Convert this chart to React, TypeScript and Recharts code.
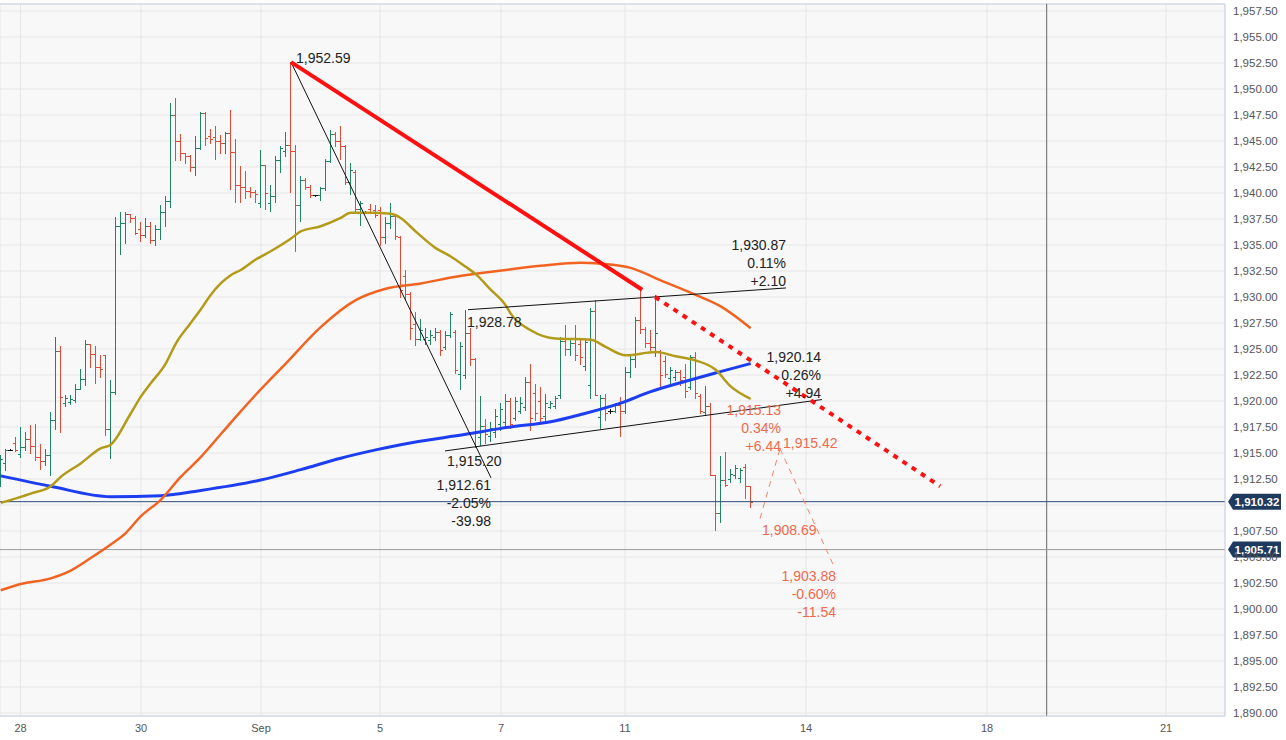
import React from 'react';
import {
  ComposedChart,
  Bar,
  Line,
  XAxis,
  YAxis,
  CartesianGrid,
  ReferenceLine,
  ReferenceDot,
} from 'recharts';

// 2-hour OHLC bars, index 0..150
const opens = [
  1913.0, 1914.0, 1915.3, 1916.0, 1914.9, 1915.6, 1916.3, 1915.7, 1914.6, 1914.2,
  1914.8, 1918.2, 1924.8, 1919.8, 1919.9, 1920.1, 1921.2, 1922.1, 1925.5, 1924.5,
  1923.3, 1924.4, 1917.3, 1920.9, 1936.8, 1937.1, 1938.0, 1937.6, 1936.5, 1936.0,
  1936.8, 1935.5, 1936.5, 1938.2, 1939.2, 1947.5, 1945.0, 1943.8, 1943.6, 1942.5,
  1944.3, 1947.7, 1945.5, 1945.4, 1945.0, 1944.8, 1945.8, 1943.9, 1940.8, 1940.6,
  1940.2, 1940.1, 1939.0, 1942.7, 1939.0, 1939.7, 1943.2, 1944.0, 1944.6, 1944.0,
  1938.8, 1941.25, 1940.6, 1939.8, 1939.8, 1940.5, 1943.1, 1945.7, 1945.0, 1944.5,
  1941.1, 1942.0, 1938.5, 1938.2, 1938.5, 1938.4, 1938.4, 1935.8, 1937.1, 1937.8,
  1935.8, 1932.0, 1930.3, 1927.4, 1926.0, 1926.0, 1925.9, 1926.2, 1926.6, 1925.2,
  1926.3, 1926.6, 1922.6, 1922.5, 1926.5, 1924.0, 1916.5, 1917.6, 1916.6, 1917.0,
  1917.8, 1918.0, 1920.0, 1918.4, 1919.0, 1919.4, 1921.8, 1920.8, 1920.0, 1918.6,
  1919.4, 1919.5, 1920.6, 1925.8, 1925.0, 1925.6, 1925.5, 1923.4, 1921.5, 1928.7,
  1918.5, 1920.3, 1919.0, 1919.0, 1919.6, 1919.0, 1922.8, 1924.0, 1927.8, 1926.9,
  1925.6, 1925.2, 1924.8, 1923.8, 1922.2, 1922.3, 1922.8, 1922.3, 1921.3, 1924.2,
  1920.5, 1918.9, 1919.5, 1912.9, 1909.2, 1912.4, 1912.5, 1912.9, 1912.6, 1913.7,
  1911.8,
];
const highs = [
  1914.8, 1915.4, 1915.35, 1916.5, 1917.5, 1917.0, 1917.7, 1917.8, 1915.9, 1915.4,
  1918.9, 1926.2, 1925.3, 1920.6, 1920.6, 1921.6, 1923.1, 1925.9, 1925.5, 1925.3,
  1924.4, 1924.4, 1922.0, 1937.7, 1938.2, 1938.2, 1938.0, 1937.8, 1937.2, 1937.6,
  1937.2, 1936.9, 1938.8, 1939.7, 1948.7, 1949.1, 1945.7, 1943.8, 1943.7, 1945.5,
  1947.8, 1947.8, 1946.2, 1946.4, 1945.6, 1945.9, 1948.0, 1945.2, 1942.6, 1942.1,
  1940.6, 1940.3, 1944.1, 1942.7, 1940.8, 1943.6, 1944.5, 1945.9, 1952.59, 1944.6,
  1941.6, 1941.4, 1940.8, 1939.85, 1940.6, 1943.3, 1946.1, 1945.9, 1946.4, 1944.6,
  1942.9, 1942.2, 1939.2, 1938.25, 1938.9, 1938.85, 1938.7, 1937.7, 1939.0, 1938.0,
  1935.9, 1932.6, 1930.5, 1928.6, 1927.9, 1927.0, 1926.8, 1927.0, 1926.8, 1926.7,
  1928.6, 1926.8, 1925.7, 1928.78, 1927.0, 1924.1, 1920.5, 1918.3, 1918.0, 1919.2,
  1919.8, 1920.7, 1920.3, 1920.4, 1920.4, 1922.3, 1923.6, 1921.6, 1921.3, 1920.7,
  1920.0, 1920.5, 1926.2, 1927.3, 1926.0, 1927.3, 1926.0, 1925.9, 1928.9, 1929.7,
  1920.6, 1920.7, 1919.2, 1919.8, 1920.4, 1923.3, 1924.3, 1928.1, 1930.7, 1927.1,
  1926.8, 1930.2, 1924.9, 1924.3, 1923.3, 1923.0, 1923.0, 1923.6, 1924.4, 1924.7,
  1920.7, 1921.4, 1919.8, 1912.9, 1914.7, 1915.1, 1913.5, 1913.8, 1913.6, 1913.9,
  1911.8,
];
const lows = [
  1911.8, 1913.4, 1915.25, 1915.2, 1914.6, 1915.3, 1915.0, 1914.3, 1913.5, 1913.8,
  1912.9, 1917.3, 1917.0, 1919.5, 1919.7, 1919.9, 1921.2, 1921.5, 1923.3, 1921.7,
  1922.3, 1916.7, 1914.5, 1920.7, 1934.1, 1935.2, 1937.2, 1936.1, 1935.4, 1935.8,
  1935.2, 1935.0, 1935.6, 1936.8, 1938.7, 1943.2, 1943.2, 1942.9, 1942.1, 1941.7,
  1944.2, 1944.6, 1944.8, 1943.3, 1943.8, 1943.8, 1940.4, 1939.1, 1939.1, 1939.5,
  1939.6, 1939.1, 1938.7, 1938.5, 1938.3, 1939.1, 1942.0, 1943.6, 1940.1, 1934.4,
  1937.3, 1940.4, 1939.6, 1939.75, 1939.3, 1940.3, 1943.0, 1944.5, 1943.3, 1940.9,
  1939.9, 1938.05, 1936.9, 1938.15, 1938.05, 1937.7, 1935.0, 1935.2, 1936.6, 1935.6,
  1930.0, 1929.8, 1926.0, 1925.4, 1925.9, 1925.5, 1925.5, 1925.9, 1924.4, 1925.0,
  1926.2, 1922.7, 1921.2, 1922.2, 1923.5, 1915.6, 1915.8, 1916.0, 1916.2, 1916.5,
  1917.2, 1917.5, 1917.4, 1918.2, 1918.8, 1919.1, 1917.2, 1918.2, 1917.8, 1918.2,
  1919.3, 1919.3, 1920.3, 1924.4, 1924.4, 1923.9, 1923.6, 1923.0, 1920.3, 1920.6,
  1917.4, 1918.2, 1918.8, 1918.9, 1916.6, 1918.8, 1922.3, 1923.3, 1926.5, 1925.2,
  1924.9, 1924.3, 1921.4, 1922.3, 1921.7, 1922.0, 1921.5, 1920.4, 1921.2, 1920.3,
  1918.8, 1918.7, 1912.9, 1907.6, 1908.4, 1911.8, 1912.2, 1912.6, 1912.2, 1910.7,
  1909.8,
];
const closes = [
  1914.4, 1915.3, 1915.3, 1915.3, 1915.6, 1916.3, 1915.7, 1914.6, 1914.2, 1914.8,
  1918.2, 1924.8, 1920.4, 1920.3, 1920.2, 1921.2, 1922.1, 1925.5, 1924.5, 1923.3,
  1923.1, 1917.3, 1920.9, 1936.8, 1937.1, 1938.0, 1937.6, 1936.2, 1936.0, 1936.8,
  1935.5, 1936.5, 1938.2, 1939.2, 1947.5, 1945.0, 1943.8, 1943.6, 1942.5, 1944.3,
  1947.7, 1945.3, 1945.2, 1945.0, 1944.8, 1945.8, 1943.9, 1940.8, 1940.6, 1940.2,
  1940.1, 1939.9, 1942.7, 1940.0, 1939.7, 1943.2, 1944.3, 1944.6, 1944.0, 1938.8,
  1941.25, 1940.6, 1939.8, 1939.8, 1940.5, 1943.1, 1945.7, 1945.0, 1944.5, 1941.1,
  1942.2, 1938.5, 1939.0, 1938.2, 1938.1, 1937.9, 1935.8, 1937.1, 1937.8, 1935.9,
  1930.7, 1930.3, 1927.0, 1926.0, 1926.8, 1926.2, 1926.3, 1926.6, 1924.9, 1926.3,
  1928.4, 1923.0, 1925.3, 1926.5, 1924.0, 1917.0, 1917.6, 1916.8, 1917.4, 1918.6,
  1919.2, 1920.0, 1917.8, 1920.0, 1919.8, 1921.8, 1918.4, 1918.8, 1918.4, 1919.8,
  1919.8, 1920.3, 1925.8, 1925.0, 1925.6, 1924.4, 1924.2, 1925.7, 1928.7, 1920.6,
  1920.3, 1918.8, 1919.0, 1919.6, 1919.0, 1922.8, 1924.0, 1927.8, 1926.9, 1925.6,
  1925.2, 1926.5, 1922.5, 1922.6, 1923.0, 1922.8, 1922.0, 1921.0, 1924.2, 1920.8,
  1919.0, 1919.5, 1912.9, 1909.2, 1912.4, 1911.9, 1913.0, 1913.6, 1913.4, 1911.8,
  1910.32,
];

// moving averages, sampled [bar index, value]
const maFast = [
  [0, 1910.2], [6, 1911.1], [10, 1911.8], [12, 1912.7], [16, 1914.0], [20, 1915.45],
  [22, 1915.8], [26, 1918.8], [28, 1920.4], [30, 1921.7], [33, 1923.6], [35, 1925.5],
  [38, 1927.5], [40, 1928.8], [42, 1930.2], [44, 1931.3], [46, 1932.1], [48, 1932.6],
  [51, 1933.6], [54, 1934.4], [58, 1935.6], [60, 1936.3], [64, 1936.8], [68, 1937.6],
  [70, 1938.1], [74, 1938.1], [78, 1938.0], [80, 1937.6], [83, 1936.3], [87, 1934.7],
  [90, 1933.9], [93, 1932.9], [95, 1932.2], [98, 1930.7], [101, 1929.2], [102, 1928.4],
  [106, 1926.8], [111, 1926.0], [118, 1925.9], [121, 1925.2], [125, 1924.4],
  [131, 1924.7], [135, 1924.3], [139, 1923.9], [143, 1923.0], [146, 1921.4], [150, 1920.2],
];
const maMid = [
  [0, 1901.8], [4, 1902.4], [10, 1902.95], [14, 1903.7], [18, 1904.9], [22, 1906.2],
  [25, 1907.3], [28, 1908.9], [32, 1910.5], [36, 1912.7], [40, 1914.6], [44, 1916.8],
  [48, 1919.0], [51, 1920.6], [57, 1923.6], [64, 1927.1], [71, 1929.7], [77, 1930.8],
  [84, 1931.3], [91, 1931.95], [101, 1932.6], [108, 1933.0], [116, 1933.3],
  [120, 1933.2], [126, 1932.8], [132, 1931.6], [139, 1930.2], [144, 1929.1], [150, 1927.0],
];
const maSlow = [
  [0, 1912.8], [10, 1911.8], [22, 1910.8], [32, 1910.9], [40, 1911.4], [52, 1912.4],
  [60, 1913.4], [68, 1914.5], [75, 1915.3], [80, 1915.8], [93, 1916.8], [102, 1917.5],
  [110, 1918.0], [116, 1918.7], [124, 1919.8], [130, 1920.9], [137, 1921.9],
  [143, 1922.7], [150, 1923.6],
];

const xTicks = [3.96, 28.06, 52.06, 75.86, 100.06, 124.86, 161.06, 197.26, 233.06];
const xTickLabels = ['28', '30', 'Sep', '5', '7', '11', '14', '18', '21'];
const yTicks = [
  1890, 1892.5, 1895, 1897.5, 1900, 1902.5, 1905, 1907.5, 1910, 1912.5, 1915, 1917.5,
  1920, 1922.5, 1925, 1927.5, 1930, 1932.5, 1935, 1937.5, 1940, 1942.5, 1945, 1947.5,
  1950, 1952.5, 1955, 1957.5,
];
// tick label hidden behind the last-price tag
const hiddenTicks = [1910];

// drawings
const redTrend = [[58.06, 1952.59], [128.3, 1930.7]];
const redTrendExt = [[130.9, 1930.0], [187.9, 1911.8]];
const dropLine = [[58.06, 1952.59], [98.06, 1912.61]];
const upperChannel = [[93.46, 1928.78], [157.06, 1930.87]];
const lowerChannel = [[88.86, 1915.2], [164.26, 1920.14]];
const projection = [[151.86, 1908.69], [155.86, 1915.42], [166.86, 1903.88]];
const lastPrice = 1910.32;
const prevLevel = 1905.71;
const cursorX = 209.2;

const xDomain = [-0.14, 244.86];
const yDomain = [1889.712, 1958.173];

const FONT = '"Liberation Sans", Arial, sans-serif';
const UP = '#1f8565';
const DOWN = '#e04a36';
const SALMON = '#f0694c';
const INK = '#222';

const fmt = (v: number) =>
  v.toLocaleString('en-US', { minimumFractionDigits: 2, maximumFractionDigits: 2 });

const data = opens.map((o, i) => ({
  i,
  range: [lows[i], highs[i]],
  open: o,
  close: closes[i],
  fast: null as number | null,
  mid: null as number | null,
  slow: null as number | null,
}));
maFast.forEach(([i, v]) => (data[i].fast = v));
maMid.forEach(([i, v]) => (data[i].mid = v));
maSlow.forEach(([i, v]) => (data[i].slow = v));

const OhlcBar = (props: any) => {
  const { x, y, width, height, payload } = props;
  if (x == null || y == null) return null;
  const [lo, hi] = payload.range;
  const top = Math.min(y, y + height);
  const h = Math.abs(height);
  const span = hi - lo;
  const at = (v: number) => Math.round(span > 0 ? top + ((hi - v) / span) * h : top) + 0.5;
  const cx = Math.round(x + width / 2) + 0.5;
  const color = payload.close > payload.open ? UP : payload.close < payload.open ? DOWN : '#111';
  return (
    <g stroke={color} strokeWidth={1}>
      <line x1={cx} x2={cx} y1={Math.round(top)} y2={Math.round(top + h) + 1} />
      <line x1={cx - 2.5} x2={cx} y1={at(payload.open)} y2={at(payload.open)} />
      <line x1={cx} x2={cx + 2.5} y1={at(payload.close)} y2={at(payload.close)} />
    </g>
  );
};

const Note = (props: any) => {
  const { viewBox, lines, dx, dys, anchor, color } = props;
  if (!viewBox) return null;
  const cx = viewBox.x + (viewBox.width || 0) / 2;
  const cy = viewBox.y + (viewBox.height || 0) / 2;
  return (
    <g>
      {lines.map((t: string, k: number) => (
        <text
          key={k}
          x={cx + dx}
          y={cy + dys[k]}
          textAnchor={anchor}
          dominantBaseline="central"
          fontSize={14}
          fontFamily={FONT}
          fill={color}
        >
          {t}
        </text>
      ))}
    </g>
  );
};

const PriceTag = (props: any) => {
  const { viewBox, text } = props;
  if (!viewBox) return null;
  const right = viewBox.x + viewBox.width;
  const y = viewBox.y;
  const l = right + 3;
  return (
    <g>
      <path
        d={`M${l},${y} L${l + 5},${y - 8} L${l + 53},${y - 8} L${l + 53},${y + 8} L${l + 5},${y + 8} Z`}
        fill="#1f3a5f"
      />
      <text
        x={l + 29}
        y={y}
        textAnchor="middle"
        dominantBaseline="central"
        fontSize={11.5}
        fontWeight="bold"
        fontFamily={FONT}
        fill="#fff"
      >
        {text}
      </text>
    </g>
  );
};

const seg = (pts: number[][]) => pts.map(([x, y]) => ({ x, y }));

const notes = [
  { at: redTrend[0], lines: ['1,952.59'], dx: 5, dys: [-4], anchor: 'start', color: INK },
  { at: upperChannel[0], lines: ['1,928.78'], dx: -1, dys: [12], anchor: 'start', color: INK },
  { at: upperChannel[1], lines: ['1,930.87', '0.11%', '+2.10'], dx: 0, dys: [-43, -25, -7], anchor: 'end', color: INK },
  { at: lowerChannel[0], lines: ['1,915.20'], dx: 2, dys: [10], anchor: 'start', color: INK },
  { at: dropLine[1], lines: ['1,912.61', '-2.05%', '-39.98'], dx: 0, dys: [7, 25, 43], anchor: 'end', color: INK },
  { at: lowerChannel[1], lines: ['1,920.14', '0.26%', '+4.94'], dx: -1, dys: [-43, -25, -7], anchor: 'end', color: INK },
  { at: projection[1], lines: ['1,915.13', '0.34%', '+6.44'], dx: 1, dys: [-39, -21, -3], anchor: 'end', color: SALMON },
  { at: projection[1], lines: ['1,915.42'], dx: 3, dys: [-6], anchor: 'start', color: SALMON },
  { at: projection[0], lines: ['1,908.69'], dx: 2, dys: [11], anchor: 'start', color: SALMON },
  { at: projection[2], lines: ['1,903.88', '-0.60%', '-11.54'], dx: 1, dys: [7, 25, 43], anchor: 'end', color: SALMON },
];

export default function App() {
  return (
    <div style={{ position: 'absolute', left: 0, top: 0, width: 1286, height: 740, background: '#fff' }}>
      <ComposedChart
        width={1286}
        height={740}
        data={data}
        margin={{ top: 4, right: 0, bottom: 0, left: 0 }}
      >
        <CartesianGrid stroke="#e6e6e6" fill="#f8f8f8" fillOpacity={1} />
        <XAxis
          dataKey="i"
          type="number"
          domain={xDomain}
          allowDataOverflow
          ticks={xTicks}
          interval={0}
          tickFormatter={(v: number) => xTickLabels[xTicks.indexOf(v)] ?? ''}
          tickLine={false}
          axisLine={{ stroke: '#c8d0e2' }}
          tick={{ fontSize: 11, fill: '#555', fontFamily: FONT }}
          height={24}
        />
        <YAxis
          orientation="right"
          type="number"
          domain={yDomain}
          allowDataOverflow
          ticks={yTicks}
          interval={0}
          tickFormatter={(v: number) => (hiddenTicks.includes(v) ? '' : fmt(v))}
          tickLine={false}
          axisLine={{ stroke: '#c8d0e2' }}
          tick={{ fontSize: 11.5, fill: '#555', fontFamily: FONT }}
          width={61}
        />
        <ReferenceLine y={yDomain[1]} stroke="#c8d0e2" />
        <ReferenceLine x={cursorX} stroke="#666" />
        <ReferenceLine y={prevLevel} stroke="#9a9a9a" label={<PriceTag text={fmt(prevLevel)} />} />
        <ReferenceLine y={lastPrice} stroke="#2b4a7a" label={<PriceTag text={fmt(lastPrice)} />} />

        <Line dataKey="slow" type="monotone" stroke="#1d3ef0" strokeWidth={3} dot={false} activeDot={false} connectNulls isAnimationActive={false} />
        <Line dataKey="mid" type="monotone" stroke="#f26322" strokeWidth={2.5} dot={false} activeDot={false} connectNulls isAnimationActive={false} />
        <Line dataKey="fast" type="monotone" stroke="#b39b1a" strokeWidth={2.5} dot={false} activeDot={false} connectNulls isAnimationActive={false} />

        <Bar dataKey="range" barSize={4} shape={OhlcBar} isAnimationActive={false} />

        <ReferenceLine segment={seg(dropLine)} stroke="#111" strokeWidth={1} />
        <ReferenceLine segment={seg(upperChannel)} stroke="#111" strokeWidth={1} />
        <ReferenceLine segment={seg(lowerChannel)} stroke="#111" strokeWidth={1} />
        <ReferenceLine segment={seg(redTrend)} stroke="#ff1010" strokeWidth={4} />
        <ReferenceLine segment={seg(redTrendExt)} stroke="#ff1010" strokeWidth={4} strokeDasharray="5 6" />
        <ReferenceLine segment={seg(projection.slice(0, 2))} stroke="#f4846a" strokeWidth={1} strokeDasharray="6 5" />
        <ReferenceLine segment={seg(projection.slice(1, 3))} stroke="#f4846a" strokeWidth={1} strokeDasharray="6 5" />

        {notes.map((n, k) => (
          <ReferenceDot
            key={k}
            x={n.at[0]}
            y={n.at[1]}
            r={0}
            fill="none"
            stroke="none"
            label={<Note lines={n.lines} dx={n.dx} dys={n.dys} anchor={n.anchor} color={n.color} />}
          />
        ))}
      </ComposedChart>
    </div>
  );
}
